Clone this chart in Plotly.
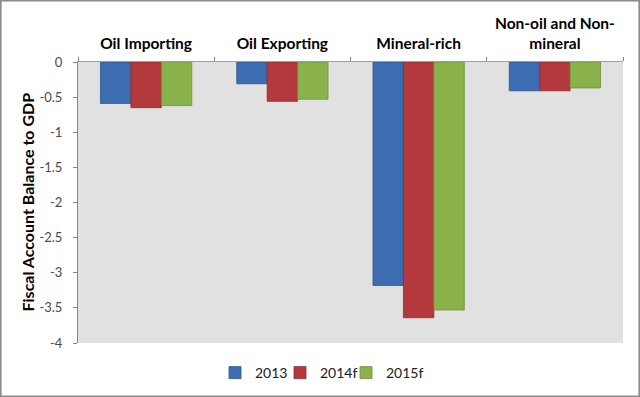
import plotly.graph_objects as go

categories = ["Oil Importing", "Oil Exporting", "Mineral-rich", "Non-oil and Non-<br>mineral"]
series_names = ["2013", "2014f", "2015f"]
v2013 = [-0.59, -0.31, -3.18, -0.41]
v2014 = [-0.65, -0.56, -3.64, -0.41]
v2015 = [-0.62, -0.53, -3.53, -0.37]
colors = ["#3d6cb0", "#b3393c", "#8ab24b"]
lines = ["#2f5590", "#8e2b2e", "#6d8f3a"]
y_ticks = [0, -0.5, -1, -1.5, -2, -2.5, -3, -3.5, -4]

W, H = 640, 397
L, R, T, B = 78, 17, 62, 54
legend_left_px = [215, 280, 346]
legend_ids = ["legend", "legend2", "legend3"]

fig = go.Figure()
for name, vals, c, lc, lg in zip(series_names, [v2013, v2014, v2015], colors, lines, legend_ids):
    fig.add_trace(go.Bar(x=categories, y=vals, name=name, legend=lg,
                         marker=dict(color=c, line=dict(color=lc, width=0.8))))

pw, ph = W - L - R, H - T - B
def px_x(p):
    return (p - L) / pw
def px_y(p):
    return (H - B - p) / ph

legend_style = dict(orientation="h", xanchor="left", xref="container",
                    y=(H - 373) / H, yanchor="middle", yref="container",
                    bgcolor="rgba(0,0,0,0)", itemwidth=30,
                    font=dict(size=14, color="#202020"))
legends = {lg: dict(legend_style, x=lx / W) for lg, lx in zip(legend_ids, legend_left_px)}

fig.update_layout(
    width=W, height=H,
    margin=dict(l=L, r=R, t=T, b=B, autoexpand=False),
    paper_bgcolor="white",
    plot_bgcolor="#e1e1e1",
    font=dict(family="Lato, 'Open Sans', sans-serif", color="#404040", size=14),
    barmode="group", bargap=0.33, bargroupgap=0,
    showlegend=True,
    **legends,
    xaxis=dict(side="top", type="category", tickson="boundaries", ticks="outside",
               ticklen=4, tickcolor="#868686", showline=True, linecolor="#a0a0a0",
               showgrid=False, ticklabelstandoff=6, automargin=False,
               tickfont=dict(size=15.5, color="black", family="Lato, 'Open Sans', sans-serif", weight="bold")),
    yaxis=dict(range=[-4, 0], tickvals=y_ticks, ticktext=[str(v) if v != 0 else "0" for v in y_ticks],
               ticks="outside", ticklen=4, tickcolor="#868686", showline=True,
               linecolor="#868686", showgrid=False, zeroline=False, automargin=False,
               ticklabelstandoff=8,
               tickfont=dict(size=13, color="#4a4a4a")),
    annotations=[dict(text="<b>Fiscal Account Balance to GDP</b>", textangle=-90,
                      xref="paper", yref="paper", x=px_x(27), y=0.5,
                      xanchor="center", yanchor="middle", showarrow=False,
                      font=dict(size=16, color="black"))],
    shapes=[dict(type="rect", xref="paper", yref="paper",
                 x0=px_x(0.8), x1=px_x(639.2), y0=px_y(396.2), y1=px_y(0.8),
                 line=dict(color="#8c8c8c", width=1.6), layer="below")],
)

fig.write_html("out.html", config={"displayModeBar": False},
               post_script="document.body.style.margin='0';document.body.style.padding='0';document.body.style.overflow='hidden';")
